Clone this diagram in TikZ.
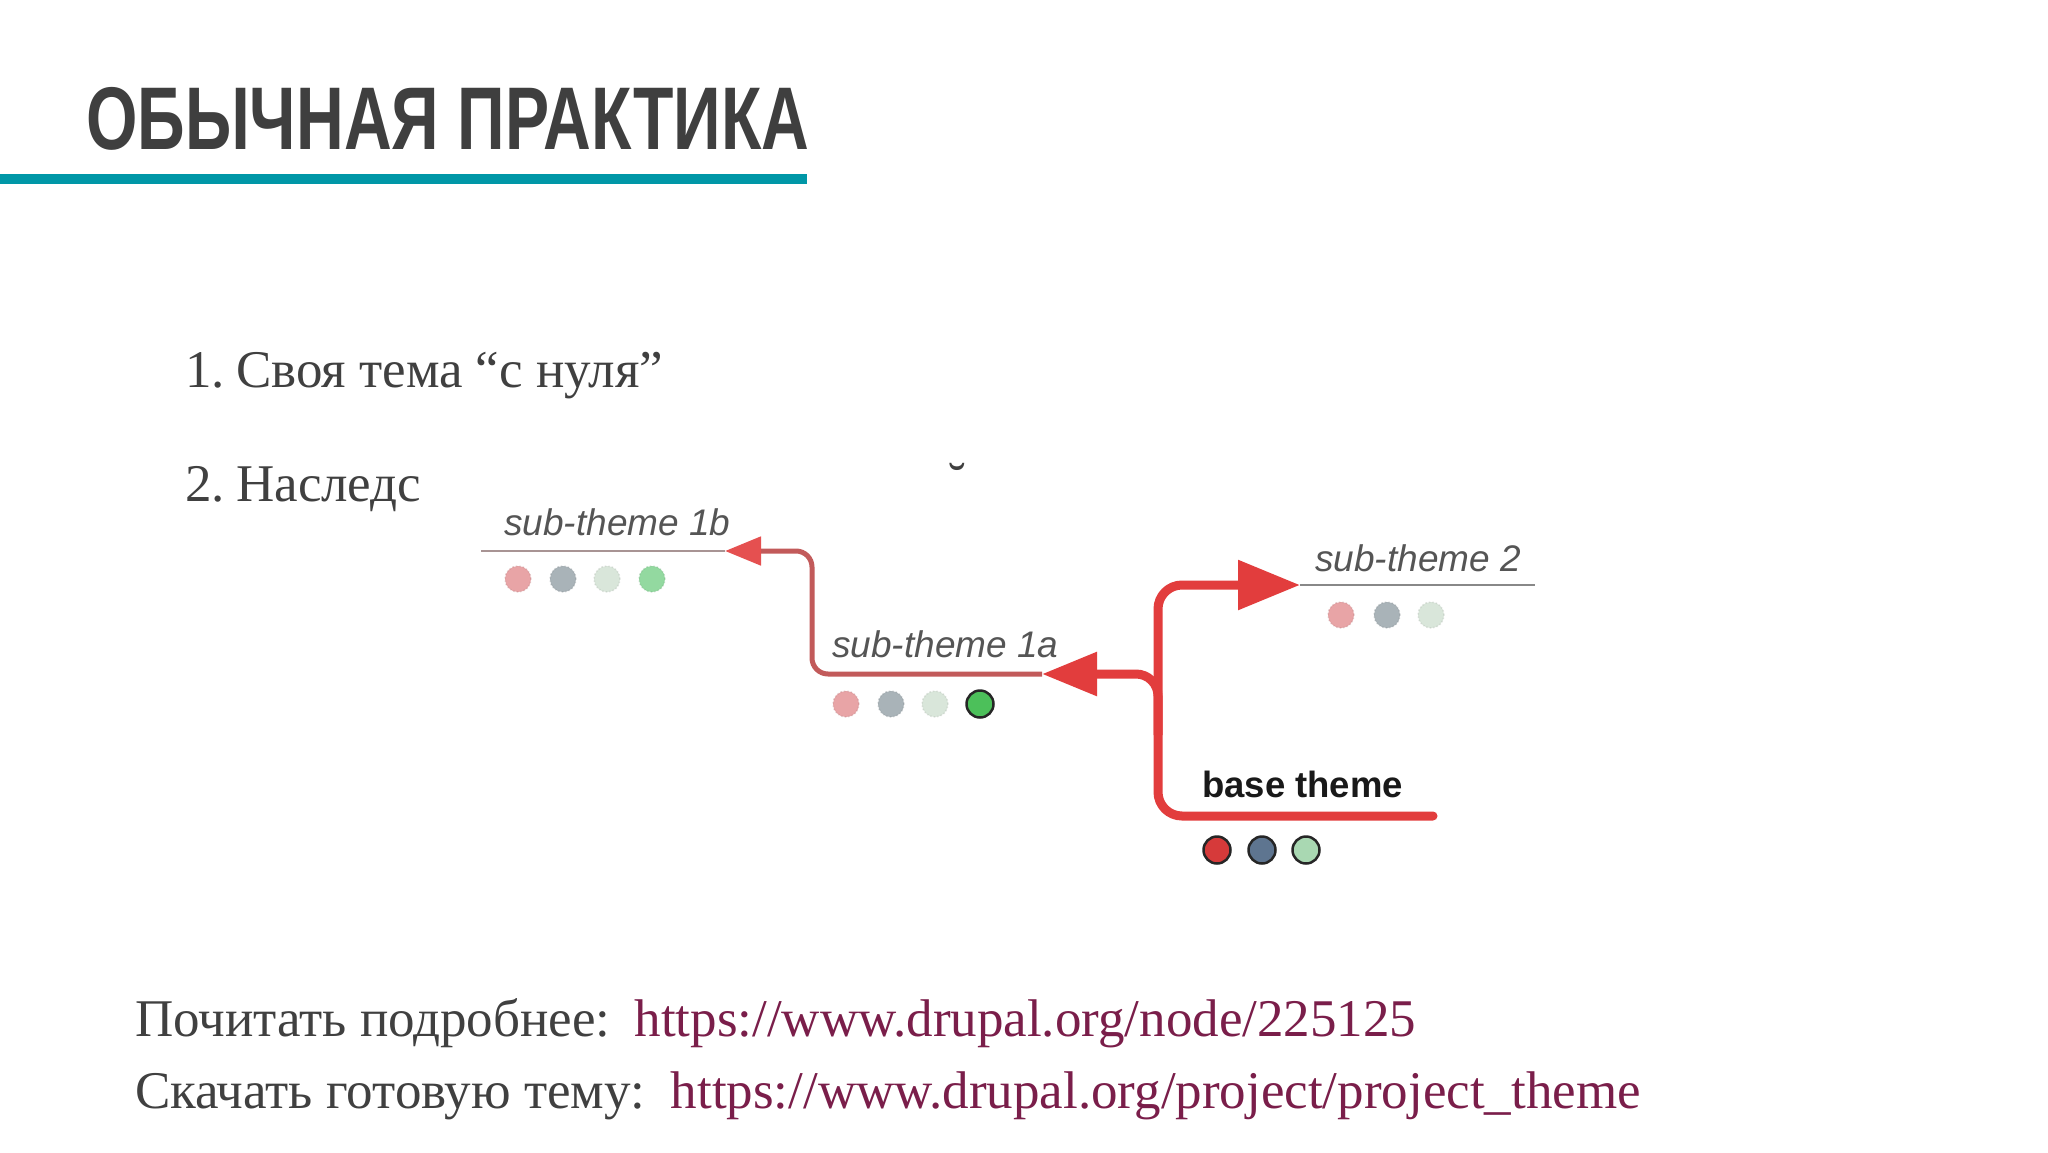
\documentclass[tikz,border=0pt]{standalone}
\usepackage{fontspec}
\setmainfont{Liberation Serif}
\newfontfamily\bodyfont{Liberation Serif}
\newfontfamily\titlefont{Liberation Sans}[FakeStretch=0.743]
\newfontfamily\diagfont{Liberation Sans}
\usetikzlibrary{arrows.meta}
\definecolor{titlegray}{HTML}{3F3F3F}
\definecolor{barteal}{HTML}{0097A7}
\definecolor{bodygray}{HTML}{404040}
\definecolor{linkred}{HTML}{7A1E4A}
\definecolor{arrowred}{HTML}{E23D3D}
\definecolor{mutedred}{HTML}{C25A5A}
\definecolor{thinline}{HTML}{A89494}
\definecolor{labelgray}{HTML}{555555}
\definecolor{dpink}{HTML}{E8A4A6}
\definecolor{dgray}{HTML}{A9B3B8}
\definecolor{dpale}{HTML}{D9E6DA}
\definecolor{dgreen}{HTML}{93D9A0}
\definecolor{bred}{HTML}{D63A3A}
\definecolor{bslate}{HTML}{5E7590}
\definecolor{bmint}{HTML}{A9D8B2}
\definecolor{bgreen}{HTML}{4CC05A}
\tikzset{
  bodytext/.style={anchor=base west, inner sep=0pt, text=bodygray, font=\bodyfont\fontsize{53}{60}\selectfont},
  difflabel/.style={anchor=base west, inner sep=0pt, text=labelgray, font=\diagfont\itshape\fontsize{37}{42}\selectfont},
  thickred/.style={draw=arrowred, line width=9pt},
  thinrule/.style={draw=thinline, line width=2pt},
  fadedot/.style={circle, minimum size=26pt, inner sep=0pt, draw=#1!80!black, draw opacity=0.35, dotted, line width=1.5pt, fill=#1},
  solidot/.style={circle, minimum size=27pt, inner sep=0pt, draw=black!85, line width=2.5pt, fill=#1},
}
\begin{document}
\begin{tikzpicture}[x=1pt,y=-1pt]
\useasboundingbox (0,0) rectangle (2048,1152);
\fill[white] (0,0) rectangle (2048,1152);
% title
\node[anchor=base west, inner sep=0pt, text=titlegray, font=\titlefont\bfseries\fontsize{89}{95}\selectfont] (title) at (86,149) {ОБЫЧНАЯ ПРАКТИКА};
\fill[barteal] (0,174) rectangle (807,184);
% list
\node[bodytext] (n1) at (185,387) {1.};
\node[bodytext] (t1) at (236,387) {Своя тема “с нуля”};
\node[bodytext] (n2) at (185,501) {2.};
\node[bodytext] (t2) at (236,501) {Наследс};
\node[anchor=base, inner sep=0pt, text=bodygray, font=\bodyfont\fontsize{53}{60}\selectfont] (breve) at (957,499) {˘};
% diagram labels
\node[difflabel] (l1b) at (504,535) {sub-theme 1b};
\node[difflabel] (l1a) at (832,657) {sub-theme 1a};
\node[difflabel] (l2) at (1315,571) {sub-theme 2};
\node[anchor=base west, inner sep=0pt, text=black!90, font=\diagfont\bfseries\fontsize{36.5}{40}\selectfont] (lbase) at (1202,797) {base theme};
% connection points
\coordinate (r1bs) at (481,551);
\coordinate (r1bt) at (725,551);
\coordinate (c1bup) at (812,551);
\coordinate (c1blo) at (812,674);
\coordinate (a1at) at (1042,674);
\coordinate (vjoin) at (1158,674);
\coordinate (vjoinlo) at (1158,735);
\coordinate (vtop) at (1158,585);
\coordinate (vbot) at (1158,816);
\coordinate (baseend) at (1433,816);
\coordinate (a2t) at (1300,585);
\coordinate (r2e) at (1535,585);
% thin rules
\draw[thinrule] (r1bs) -- (r1bt);
\draw[thinrule, draw=labelgray!70] (a2t) -- (r2e);
% base theme trunk and sub-theme 2 branch
\draw[thickred, line cap=round, rounded corners=24pt, -{Triangle[length=62pt,width=48pt]}] (baseend) -- (vbot) -- (vtop) -- (a2t);
% sub-theme 1a branch
\draw[thickred, rounded corners=22pt, -{Triangle[length=55pt,width=42pt]}] (vjoinlo) -- (vjoin) -- (a1at);
% sub-theme 1b branch
\draw[draw=mutedred, line width=5pt, rounded corners=16pt, -{Triangle[length=36pt,width=28pt,color=arrowred!90]}] (a1at) -- (c1blo) -- (c1bup) -- (r1bt);
% dots
\node[fadedot=dpink] (d1b1) at (518,579) {};
\node[fadedot=dgray] (d1b2) at (563,579) {};
\node[fadedot=dpale] (d1b3) at (607,579) {};
\node[fadedot=dgreen] (d1b4) at (652,579) {};
\node[fadedot=dpink] (d1a1) at (846,704) {};
\node[fadedot=dgray] (d1a2) at (891,704) {};
\node[fadedot=dpale] (d1a3) at (935,704) {};
\node[solidot=bgreen] (d1a4) at (980,704) {};
\node[fadedot=dpink] (d21) at (1341,615) {};
\node[fadedot=dgray] (d22) at (1387,615) {};
\node[fadedot=dpale] (d23) at (1431,615) {};
\node[solidot=bred] (db1) at (1217,850) {};
\node[solidot=bslate] (db2) at (1262,850) {};
\node[solidot=bmint] (db3) at (1306,850) {};
% footer
\node[bodytext] (f1) at (135,1036) {Почитать подробнее:\hspace{24pt}\textcolor{linkred}{https://www.drupal.org/node/225125}};
\node[bodytext] (f2) at (135,1108) {Скачать готовую тему:\hspace{26pt}\textcolor{linkred}{https://www.drupal.org/project/project\_theme}};
\end{tikzpicture}
\end{document}
